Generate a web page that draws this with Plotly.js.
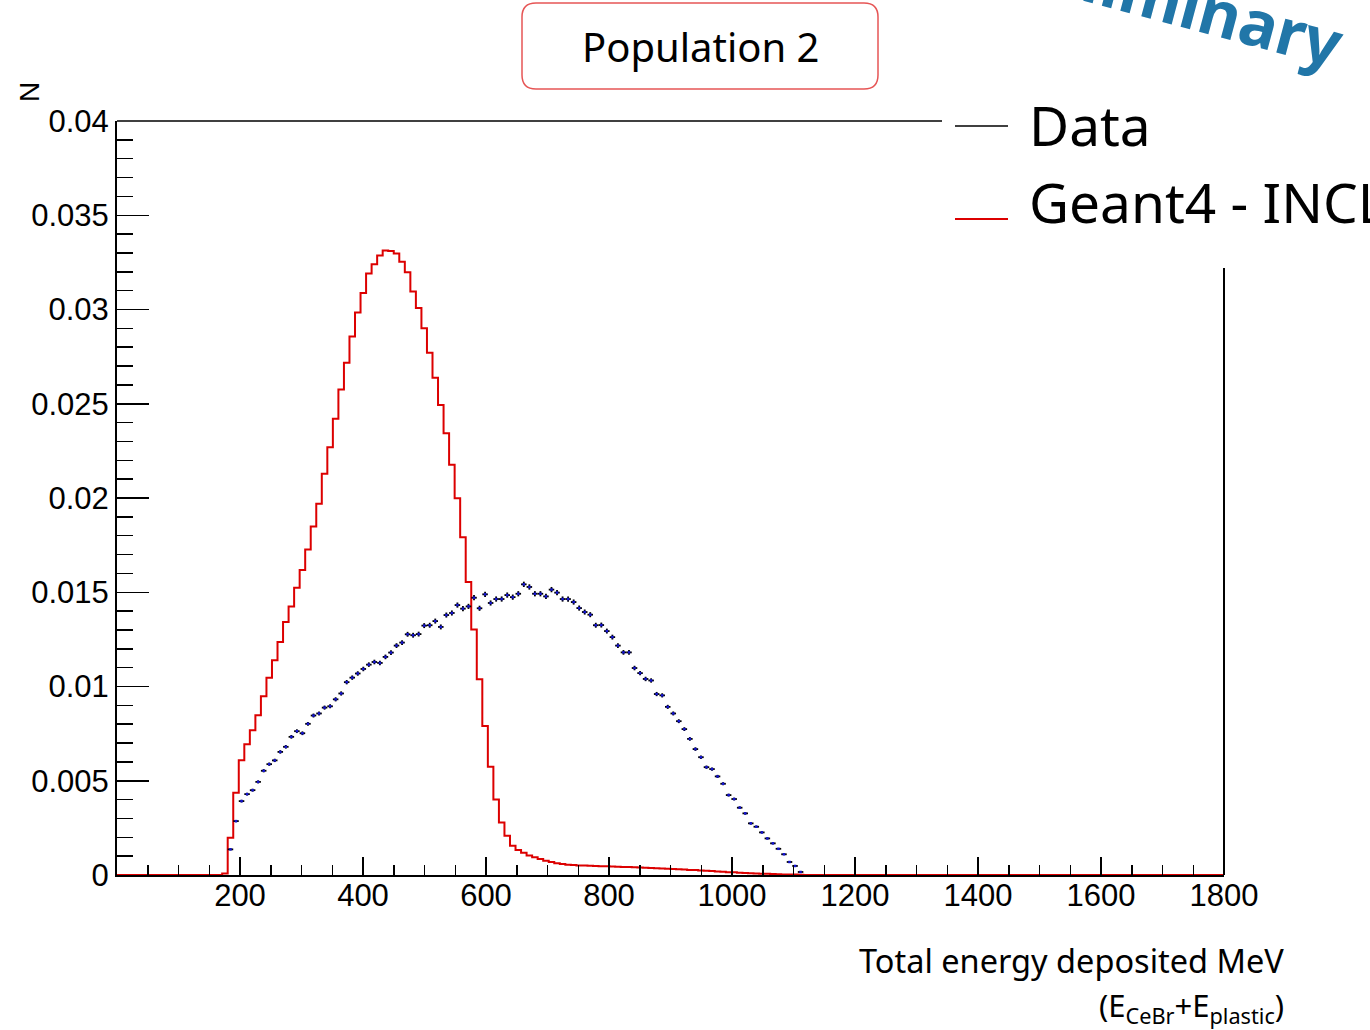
<!DOCTYPE html>
<html>
<head>
<meta charset="utf-8">
<script src="https://cdn.plot.ly/plotly-3.0.1.min.js"></script>
<style>
html,body{margin:0;padding:0;background:#fff;}
#chart{width:1370px;height:1030px;}
</style>
</head>
<body>
<div id="chart"></div>
<script>
// ---- data ----
const binWidth = 9;            // MeV, 200 bins over 0-1800
const nBins = 200;
const xTickValues = [200, 400, 600, 800, 1000, 1200, 1400, 1600, 1800];
const yTickValues = [0, 0.005, 0.01, 0.015, 0.02, 0.025, 0.03, 0.035, 0.04];
const yTickLabels = ["0", "0.005", "0.01", "0.015", "0.02", "0.025", "0.03", "0.035", "0.04"];

// Geant4 - INCL histogram, starting at bin index 19
const simFirstBin = 19;
const simValues = [
  0.00008, 0.00198, 0.00436, 0.00609, 0.00694, 0.00768, 0.00848, 0.00948, 0.01047, 0.01139,
  0.01236, 0.01342, 0.01425, 0.01524, 0.01618, 0.01727, 0.01849, 0.01969, 0.02128, 0.02269,
  0.02420, 0.02575, 0.02718, 0.02857, 0.02984, 0.03087, 0.03191, 0.03240, 0.03286, 0.03313,
  0.03310, 0.03297, 0.03253, 0.03198, 0.03096, 0.03008, 0.02900, 0.02771, 0.02638, 0.02494,
  0.02343, 0.02176, 0.01999, 0.01792, 0.01554, 0.01303, 0.01038, 0.00791, 0.00574, 0.00401,
  0.00279, 0.00208, 0.00155, 0.00132, 0.00118, 0.00104, 0.00094, 0.00085, 0.00076, 0.00069,
  0.00062, 0.00058, 0.00055, 0.00053, 0.00051, 0.00050, 0.00049, 0.00048, 0.00047, 0.00046,
  0.00045, 0.00044, 0.00043, 0.00042, 0.00041, 0.00040, 0.00039, 0.00037, 0.00036, 0.00035,
  0.00033, 0.00032, 0.00030, 0.00029, 0.00027, 0.00026, 0.00024, 0.00022, 0.00021, 0.00019,
  0.00017, 0.00015, 0.00014, 0.00012, 0.00011, 0.00009, 0.00008, 0.00007, 0.00006, 0.00005,
  0.00004, 0.00003, 0.00002, 0.00002, 0.00001, 0
];

// Measured data points, starting at bin index 20
const dataFirstBin = 20;
const dataValues = [
  0.00136, 0.00286, 0.00392, 0.00429, 0.00450, 0.00494, 0.00553, 0.00588, 0.00608, 0.00653,
  0.00680, 0.00733, 0.00763, 0.00752, 0.00802, 0.00846, 0.00857, 0.00888, 0.00895, 0.00932,
  0.00963, 0.01023, 0.01047, 0.01069, 0.01093, 0.01116, 0.01130, 0.01125, 0.01157, 0.01180,
  0.01217, 0.01233, 0.01277, 0.01272, 0.01278, 0.01323, 0.01325, 0.01347, 0.01316, 0.01379,
  0.01390, 0.01432, 0.01413, 0.01425, 0.01471, 0.01415, 0.01489, 0.01443, 0.01464, 0.01464,
  0.01485, 0.01474, 0.01492, 0.01542, 0.01528, 0.01492, 0.01492, 0.01478, 0.01514, 0.01498,
  0.01464, 0.01464, 0.01448, 0.01416, 0.01395, 0.01381, 0.01325, 0.01326, 0.01294, 0.01262,
  0.01217, 0.01181, 0.01181, 0.01098, 0.01071, 0.01040, 0.01032, 0.00960, 0.00953, 0.00892,
  0.00857, 0.00816, 0.00774, 0.00722, 0.00668, 0.00625, 0.00572, 0.00562, 0.00523, 0.00484,
  0.00424, 0.00403, 0.00357, 0.00327, 0.00274, 0.00256, 0.00226, 0.00194, 0.00168, 0.00139,
  0.00110, 0.00069, 0.00048, 0.00016
];

const titleText = "Population 2";
const legendLabels = ["Data", "Geant4 - INCL"];
const xTitleLine1 = "Total energy deposited MeV";
const xTitleLine2 = "(E<sub>CeBr</sub>+E<sub>plastic</sub>)";
const yTitleText = "N";
const watermarkText = "Preliminary";

// ---- build traces ----
const simX = [], simY = [];
for (let k = 0; k < nBins; k++) {
  const i = k - simFirstBin;
  const v = (i >= 0 && i < simValues.length) ? simValues[i] : 0;
  simX.push(k * binWidth); simY.push(v);
}
simX.push(nBins * binWidth); simY.push(simY[simY.length - 1]);

const dataX = dataValues.map((v, i) => (dataFirstBin + i + 0.5) * binWidth);
const dataErr = dataValues.map(v => 0.00014 * Math.sqrt(v / 0.015));

const traces = [
  {
    x: simX, y: simY, type: 'scatter', mode: 'lines',
    line: {shape: 'hv', color: 'rgb(220,0,0)', width: 2},
    hoverinfo: 'skip', showlegend: false
  },
  {
    x: dataX, y: dataValues, type: 'scatter', mode: 'markers',
    marker: {symbol: 'square', size: 2.5, color: 'rgb(20,20,210)', line: {width: 0}},
    error_x: {type: 'constant', value: binWidth / 2, width: 0, color: 'black', thickness: 1.8},
    error_y: {type: 'data', array: dataErr, width: 0, color: 'black', thickness: 1.8},
    hoverinfo: 'skip', showlegend: false
  }
];

// ---- layout geometry (pixels -> paper) ----
const W = 1370, H = 1030;
const mL = 117, mR = 146, mT = 121, mB = 155;
const pw = W - mL - mR, ph = H - mT - mB;
const px = x => (x - mL) / pw;
const py = y => (H - mB - y) / ph;

function roundRect(x0, y0, x1, y1, r) {
  const ax0 = px(x0), ax1 = px(x1), ay0 = py(y0), ay1 = py(y1);
  const rx = r / pw, ry = r / ph;
  return `M ${ax0 + rx} ${ay0} L ${ax1 - rx} ${ay0} Q ${ax1} ${ay0} ${ax1} ${ay0 - ry} ` +
         `L ${ax1} ${ay1 + ry} Q ${ax1} ${ay1} ${ax1 - rx} ${ay1} ` +
         `L ${ax0 + rx} ${ay1} Q ${ax0} ${ay1} ${ax0} ${ay1 + ry} ` +
         `L ${ax0} ${ay0 - ry} Q ${ax0} ${ay0} ${ax0 + rx} ${ay0} Z`;
}

const tickFont = {family: 'Liberation Sans, Arial, sans-serif', size: 31, color: 'black'};
const textFont = 'Noto Sans, Open Sans, sans-serif';

const layout = {
  width: W, height: H,
  margin: {l: mL, r: mR, t: mT, b: mB, pad: 0},
  paper_bgcolor: 'white', plot_bgcolor: 'white',
  showlegend: false,
  xaxis: {
    range: [0, 1800], showgrid: false, zeroline: false,
    showline: true, linecolor: 'black', linewidth: 2, mirror: false,
    ticks: 'inside', ticklen: 18, tickwidth: 1.5, tickcolor: 'black',
    tickmode: 'array', tickvals: xTickValues, ticktext: xTickValues.map(String),
    tickfont: tickFont, ticklabelstandoff: -8,
    minor: {dtick: 50, ticks: 'inside', ticklen: 10, tickwidth: 1.5, tickcolor: 'black', showgrid: false}
  },
  yaxis: {
    range: [0, 0.04], showgrid: false, zeroline: false,
    showline: true, linecolor: 'black', linewidth: 2, mirror: false,
    ticks: 'inside', ticklen: 32, tickwidth: 1.5, tickcolor: 'black',
    tickmode: 'array', tickvals: yTickValues, ticktext: yTickLabels,
    tickfont: tickFont, ticklabelstandoff: 0,
    minor: {dtick: 0.001, ticks: 'inside', ticklen: 16, tickwidth: 1.5, tickcolor: 'black', showgrid: false}
  },
  shapes: [
    // top frame (partly hidden by legend box)
    {type: 'line', xref: 'paper', yref: 'paper', x0: 0, x1: px(942), y0: 1, y1: 1,
     line: {color: 'black', width: 1.5}},
    // right frame (starts below legend box)
    {type: 'line', xref: 'paper', yref: 'paper', x0: 1, x1: 1, y0: 0, y1: py(268),
     line: {color: 'black', width: 2}},
    // title box
    {type: 'path', xref: 'paper', yref: 'paper', path: roundRect(522, 3, 878, 89, 14),
     line: {color: 'rgb(230,85,85)', width: 1.5}, fillcolor: 'rgba(0,0,0,0)'},
    // legend samples
    {type: 'line', xref: 'paper', yref: 'paper', x0: px(955), x1: px(1008), y0: py(126), y1: py(126),
     line: {color: 'black', width: 1.3}},
    {type: 'line', xref: 'paper', yref: 'paper', x0: px(955), x1: px(1008), y0: py(219), y1: py(219),
     line: {color: 'rgb(220,0,0)', width: 2}}
  ],
  annotations: [
    {text: titleText, xref: 'paper', yref: 'paper', x: px(700), y: py(47),
     xanchor: 'center', yanchor: 'middle', showarrow: false,
     font: {family: textFont, size: 40, color: 'black'}},
    {text: legendLabels[0], xref: 'paper', yref: 'paper', x: px(1027), y: py(124),
     xanchor: 'left', yanchor: 'middle', showarrow: false,
     font: {family: textFont, size: 55, color: 'black'}},
    {text: legendLabels[1], xref: 'paper', yref: 'paper', x: px(1027), y: py(201),
     xanchor: 'left', yanchor: 'middle', showarrow: false,
     font: {family: textFont, size: 55, color: 'black'}},
    {text: xTitleLine1, xref: 'paper', yref: 'paper', x: px(1286), y: py(960),
     xanchor: 'right', yanchor: 'middle', showarrow: false,
     font: {family: textFont, size: 32.5, color: 'black'}},
    {text: xTitleLine2, xref: 'paper', yref: 'paper', x: px(1286), y: py(1007),
     xanchor: 'right', yanchor: 'middle', showarrow: false,
     font: {family: textFont, size: 31, color: 'black'}},
    {text: yTitleText, xref: 'paper', yref: 'paper', x: px(30), y: py(92),
     xanchor: 'center', yanchor: 'middle', showarrow: false, textangle: -90,
     font: {family: 'Liberation Sans, Arial, sans-serif', size: 28, color: 'black'}},
    {text: '<b>' + watermarkText + '</b>', xref: 'paper', yref: 'paper', x: px(1162), y: py(-3),
     xanchor: 'center', yanchor: 'middle', showarrow: false, textangle: 15,
     font: {family: textFont, size: 64, color: 'rgb(33,118,168)'}}
  ]
};

Plotly.newPlot('chart', traces, layout, {staticPlot: true, displayModeBar: false});
</script>
</body>
</html>
